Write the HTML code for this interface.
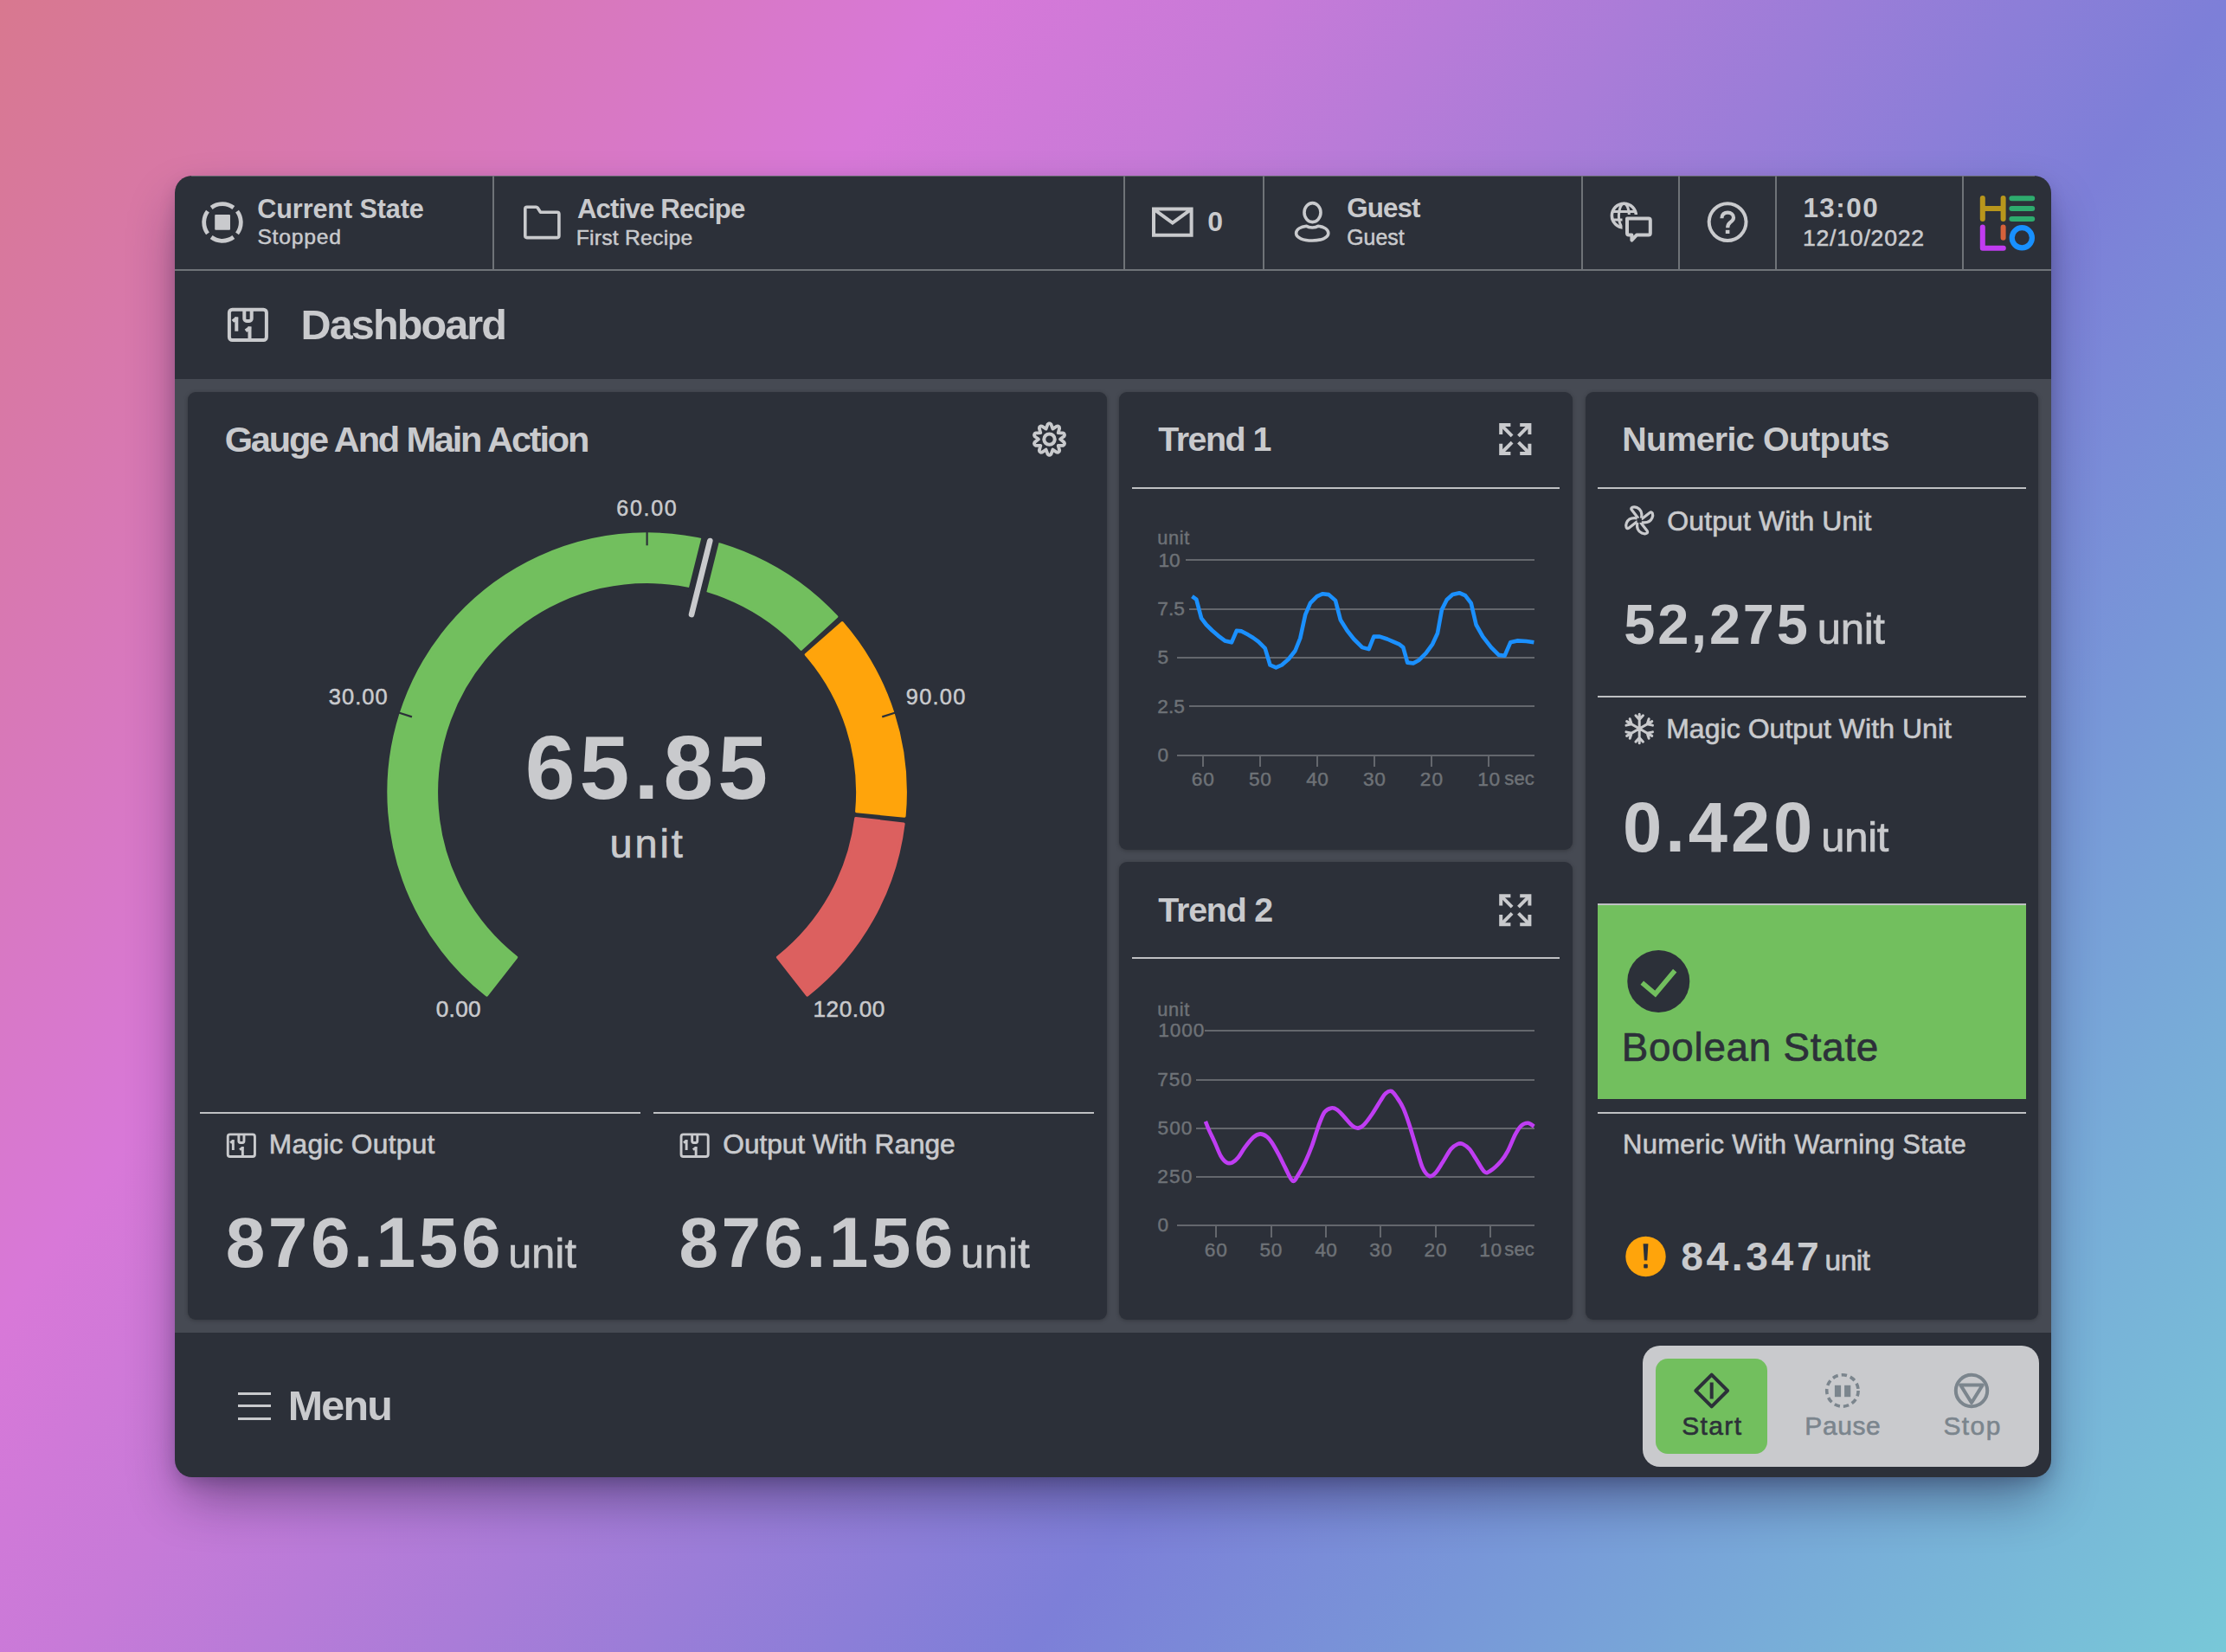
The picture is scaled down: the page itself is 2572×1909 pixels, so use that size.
<!DOCTYPE html>
<html><head><meta charset="utf-8"><style>
html,body{margin:0;padding:0;}
body{width:2572px;height:1909px;position:relative;overflow:hidden;font-family:"Liberation Sans",sans-serif;
background:linear-gradient(126deg,#d8788f 0%,#d878d8 28%,#c77ad8 37%,#7d7fd8 65%,#7896d8 76%,#78acd8 86%,#78c8d8 100%);}
.t{position:absolute;line-height:1;white-space:nowrap;}
.r{position:absolute;}
</style></head><body>
<div class="r" style="left:202px;top:203px;width:2168px;height:1504px;background:#2c3039;border-radius:20px;box-shadow:0 30px 60px -8px rgba(25,20,50,0.45), 0 8px 20px -4px rgba(25,20,50,0.25);"></div>
<div class="r" style="left:202px;top:311px;width:2168px;height:2px;background:#6f7378;"></div>
<div class="r" style="left:221px;top:203px;width:2130px;height:1px;background:rgba(115,119,124,0.8);"></div>
<div class="r" style="left:569px;top:203px;width:2px;height:108px;background:#6f7378;"></div>
<div class="r" style="left:1298px;top:203px;width:2px;height:108px;background:#6f7378;"></div>
<div class="r" style="left:1459px;top:203px;width:2px;height:108px;background:#6f7378;"></div>
<div class="r" style="left:1827px;top:203px;width:2px;height:108px;background:#6f7378;"></div>
<div class="r" style="left:1939px;top:203px;width:2px;height:108px;background:#6f7378;"></div>
<div class="r" style="left:2051px;top:203px;width:2px;height:108px;background:#6f7378;"></div>
<div class="r" style="left:2267px;top:203px;width:2px;height:108px;background:#6f7378;"></div>
<div class="r" style="left:202px;top:438px;width:2168px;height:1102px;background:#464a53;"></div>
<div class="r" style="left:217px;top:453px;width:1062px;height:1072px;background:#2c3039;border-radius:9px;box-shadow:0 1px 5px rgba(0,0,0,0.25);"></div>
<div class="r" style="left:1293px;top:453px;width:524px;height:529px;background:#2c3039;border-radius:9px;box-shadow:0 1px 5px rgba(0,0,0,0.25);"></div>
<div class="r" style="left:1293px;top:996px;width:524px;height:529px;background:#2c3039;border-radius:9px;box-shadow:0 1px 5px rgba(0,0,0,0.25);"></div>
<div class="r" style="left:1832px;top:453px;width:523px;height:1072px;background:#2c3039;border-radius:9px;box-shadow:0 1px 5px rgba(0,0,0,0.25);"></div>
<div class="t" style="left:297.24px;top:225.73px;font-size:30.67px;font-weight:700;letter-spacing:-0.130px;color:#c9cacd;">Current State</div>
<div class="t" style="left:297.38px;top:262.48px;font-size:24.71px;font-weight:400;letter-spacing:0.743px;color:#c9cacd;-webkit-text-stroke:0.49px #c9cacd;">Stopped</div>
<div class="t" style="left:666.92px;top:225.54px;font-size:31.25px;font-weight:700;letter-spacing:-0.867px;color:#c9cacd;">Active Recipe</div>
<div class="t" style="left:665.67px;top:263.08px;font-size:24.71px;font-weight:400;letter-spacing:0.247px;color:#c9cacd;-webkit-text-stroke:0.49px #c9cacd;">First Recipe</div>
<div class="t" style="left:1395.24px;top:239.93px;font-size:31.98px;font-weight:700;letter-spacing:0.000px;color:#c9cacd;">0</div>
<div class="t" style="left:1556.21px;top:225.02px;font-size:31.40px;font-weight:700;letter-spacing:-0.951px;color:#c9cacd;">Guest</div>
<div class="t" style="left:1556.25px;top:262.76px;font-size:24.85px;font-weight:400;letter-spacing:0.030px;color:#c9cacd;-webkit-text-stroke:0.50px #c9cacd;">Guest</div>
<div class="t" style="left:2083.42px;top:225.02px;font-size:31.40px;font-weight:700;letter-spacing:1.492px;color:#c9cacd;">13:00</div>
<div class="t" style="left:2082.97px;top:261.78px;font-size:26.60px;font-weight:400;letter-spacing:0.782px;color:#c9cacd;-webkit-text-stroke:0.53px #c9cacd;">12/10/2022</div>
<div class="t" style="left:347.55px;top:351.20px;font-size:48.55px;font-weight:700;letter-spacing:-1.890px;color:#c9cacd;">Dashboard</div>
<div class="t" style="left:259.69px;top:486.70px;font-size:41.57px;font-weight:700;letter-spacing:-2.197px;color:#c9cacd;">Gauge And Main Action</div>
<div class="t" style="left:1338.36px;top:487.95px;font-size:39.39px;font-weight:700;letter-spacing:-1.488px;color:#c9cacd;">Trend 1</div>
<div class="t" style="left:1338.36px;top:1032.05px;font-size:39.39px;font-weight:700;letter-spacing:-1.208px;color:#c9cacd;">Trend 2</div>
<div class="t" style="left:1874.37px;top:487.95px;font-size:39.39px;font-weight:700;letter-spacing:-0.734px;color:#c9cacd;">Numeric Outputs</div>
<div class="r" style="left:1308px;top:563px;width:494px;height:2px;background:#bfc0c3;"></div>
<div class="r" style="left:1308px;top:1106px;width:494px;height:2px;background:#bfc0c3;"></div>
<div class="r" style="left:1846px;top:563px;width:495px;height:2px;background:#bfc0c3;"></div>
<div class="r" style="left:1846px;top:804px;width:495px;height:2px;background:#bfc0c3;"></div>
<div class="r" style="left:1846px;top:1044px;width:495px;height:2px;background:#bfc0c3;"></div>
<div class="r" style="left:1846px;top:1285px;width:495px;height:2px;background:#bfc0c3;"></div>
<div class="r" style="left:231px;top:1285px;width:509px;height:2px;background:#bfc0c3;"></div>
<div class="r" style="left:755px;top:1285px;width:509px;height:2px;background:#bfc0c3;"></div>
<div class="t" style="left:310.80px;top:1307.27px;font-size:31.69px;font-weight:400;letter-spacing:0.281px;color:#c9cacd;-webkit-text-stroke:0.63px #c9cacd;">Magic Output</div>
<div class="t" style="left:835.30px;top:1307.27px;font-size:31.69px;font-weight:400;letter-spacing:-0.066px;color:#c9cacd;-webkit-text-stroke:0.63px #c9cacd;">Output With Range</div>
<div class="t" style="left:260.70px;top:1395.19px;font-size:81.98px;font-weight:700;letter-spacing:3.590px;color:#c9cacd;">876.156</div>
<div class="t" style="left:587.25px;top:1423.59px;font-size:48.44px;font-weight:400;letter-spacing:0.167px;color:#c9cacd;-webkit-text-stroke:0.70px #c9cacd;">unit</div>
<div class="t" style="left:784.40px;top:1395.19px;font-size:81.98px;font-weight:700;letter-spacing:3.440px;color:#c9cacd;">876.156</div>
<div class="t" style="left:1110.05px;top:1423.59px;font-size:48.44px;font-weight:400;letter-spacing:0.500px;color:#c9cacd;-webkit-text-stroke:0.70px #c9cacd;">unit</div>
<div class="t" style="left:1926.29px;top:585.73px;font-size:31.98px;font-weight:400;letter-spacing:0.111px;color:#c9cacd;-webkit-text-stroke:0.64px #c9cacd;">Output With Unit</div>
<div class="t" style="left:1876.30px;top:689.99px;font-size:64.97px;font-weight:700;letter-spacing:2.757px;color:#c9cacd;">52,275</div>
<div class="t" style="left:2099.81px;top:703.40px;font-size:49.13px;font-weight:400;letter-spacing:-0.388px;color:#c9cacd;-webkit-text-stroke:0.70px #c9cacd;">unit</div>
<div class="t" style="left:1925.18px;top:826.33px;font-size:31.98px;font-weight:400;letter-spacing:0.052px;color:#c9cacd;-webkit-text-stroke:0.64px #c9cacd;">Magic Output With Unit</div>
<div class="t" style="left:1875.08px;top:915.08px;font-size:81.40px;font-weight:700;letter-spacing:3.893px;color:#c9cacd;">0.420</div>
<div class="t" style="left:2104.22px;top:942.52px;font-size:48.99px;font-weight:400;letter-spacing:-0.283px;color:#c9cacd;-webkit-text-stroke:0.70px #c9cacd;">unit</div>
<div class="r" style="left:1846px;top:1046px;width:495px;height:224px;background:#72bf5e;"></div>
<div class="t" style="left:1873.84px;top:1187.63px;font-size:45.78px;font-weight:400;letter-spacing:0.745px;color:#2c3039;-webkit-text-stroke:0.70px #2c3039;">Boolean State</div>
<div class="t" style="left:1875.06px;top:1307.59px;font-size:30.96px;font-weight:400;letter-spacing:0.295px;color:#c9cacd;-webkit-text-stroke:0.62px #c9cacd;">Numeric With Warning State</div>
<div class="t" style="left:1942.23px;top:1429.16px;font-size:46.22px;font-weight:700;letter-spacing:3.605px;color:#c9cacd;">84.347</div>
<div class="t" style="left:2108.62px;top:1439.91px;font-size:33.54px;font-weight:400;letter-spacing:-0.615px;color:#c9cacd;-webkit-text-stroke:0.67px #c9cacd;">unit</div>
<div class="t" style="left:606.69px;top:836.41px;font-size:103.92px;font-weight:700;letter-spacing:5.108px;color:#c9cacd;">65.85</div>
<div class="t" style="left:704.55px;top:951.87px;font-size:46.92px;font-weight:400;letter-spacing:2.846px;color:#c9cacd;-webkit-text-stroke:0.70px #c9cacd;">unit</div>
<div class="t" style="left:332.76px;top:1600.32px;font-size:48.40px;font-weight:700;letter-spacing:-1.780px;color:#c9cacd;">Menu</div>
<div class="r" style="left:1898px;top:1555px;width:458px;height:140px;background:#c9cacd;border-radius:20px;"></div>
<div class="r" style="left:1913px;top:1570px;width:129px;height:110px;background:#72bf5e;border-radius:14px;"></div>
<div class="t" style="left:1943.14px;top:1632.65px;font-size:29.94px;font-weight:400;letter-spacing:1.412px;color:#2c3039;-webkit-text-stroke:0.60px #2c3039;">Start</div>
<div class="t" style="left:2085.34px;top:1632.65px;font-size:29.94px;font-weight:400;letter-spacing:0.597px;color:#7b858d;-webkit-text-stroke:0.60px #7b858d;">Pause</div>
<div class="t" style="left:2245.44px;top:1632.65px;font-size:29.94px;font-weight:400;letter-spacing:1.441px;color:#7b858d;-webkit-text-stroke:0.60px #7b858d;">Stop</div>
<div class="t" style="left:712.33px;top:574.83px;font-size:25.00px;font-weight:400;letter-spacing:1.721px;color:#c9cacd;-webkit-text-stroke:0.50px #c9cacd;">60.00</div>
<div class="t" style="left:379.83px;top:792.96px;font-size:25.44px;font-weight:400;letter-spacing:1.053px;color:#c9cacd;-webkit-text-stroke:0.51px #c9cacd;">30.00</div>
<div class="t" style="left:1046.81px;top:792.96px;font-size:25.44px;font-weight:400;letter-spacing:1.233px;color:#c9cacd;-webkit-text-stroke:0.51px #c9cacd;">90.00</div>
<div class="t" style="left:503.68px;top:1153.25px;font-size:26.16px;font-weight:400;letter-spacing:0.341px;color:#c9cacd;-webkit-text-stroke:0.52px #c9cacd;">0.00</div>
<div class="t" style="left:939.41px;top:1153.25px;font-size:26.16px;font-weight:400;letter-spacing:0.599px;color:#c9cacd;-webkit-text-stroke:0.52px #c9cacd;">120.00</div>
<div class="r" style="left:1370px;top:646px;width:403px;height:2px;background:#64676d;"></div>
<div class="r" style="left:1374px;top:703px;width:399px;height:2px;background:#64676d;"></div>
<div class="r" style="left:1360px;top:759px;width:413px;height:2px;background:#64676d;"></div>
<div class="r" style="left:1374px;top:815px;width:399px;height:2px;background:#64676d;"></div>
<div class="r" style="left:1360px;top:872px;width:413px;height:2px;background:#64676d;"></div>
<div class="r" style="left:1389px;top:872px;width:2px;height:14px;background:#64676d;"></div>
<div class="r" style="left:1455px;top:872px;width:2px;height:14px;background:#64676d;"></div>
<div class="r" style="left:1521px;top:872px;width:2px;height:14px;background:#64676d;"></div>
<div class="r" style="left:1587px;top:872px;width:2px;height:14px;background:#64676d;"></div>
<div class="r" style="left:1653px;top:872px;width:2px;height:14px;background:#64676d;"></div>
<div class="r" style="left:1719px;top:872px;width:2px;height:14px;background:#64676d;"></div>
<div class="t" style="left:1337.28px;top:611.44px;font-size:21.81px;font-weight:400;letter-spacing:0.606px;color:#6e7277;-webkit-text-stroke:0.44px #6e7277;">unit</div>
<div class="t" style="left:1338.47px;top:635.80px;font-size:22.67px;font-weight:400;letter-spacing:0.000px;color:#6e7277;-webkit-text-stroke:0.45px #6e7277;">10</div>
<div class="t" style="left:1337.34px;top:692.00px;font-size:22.67px;font-weight:400;letter-spacing:0.000px;color:#6e7277;-webkit-text-stroke:0.45px #6e7277;">7.5</div>
<div class="t" style="left:1337.59px;top:748.20px;font-size:22.67px;font-weight:400;letter-spacing:0.000px;color:#6e7277;-webkit-text-stroke:0.45px #6e7277;">5</div>
<div class="t" style="left:1337.36px;top:804.50px;font-size:22.67px;font-weight:400;letter-spacing:0.000px;color:#6e7277;-webkit-text-stroke:0.45px #6e7277;">2.5</div>
<div class="t" style="left:1337.61px;top:860.70px;font-size:22.67px;font-weight:400;letter-spacing:0.000px;color:#6e7277;-webkit-text-stroke:0.45px #6e7277;">0</div>
<div class="t" style="left:1376.75px;top:888.80px;font-size:22.67px;font-weight:400;letter-spacing:1.016px;color:#6e7277;-webkit-text-stroke:0.45px #6e7277;">60</div>
<div class="t" style="left:1442.99px;top:888.80px;font-size:22.67px;font-weight:400;letter-spacing:0.773px;color:#6e7277;-webkit-text-stroke:0.45px #6e7277;">50</div>
<div class="t" style="left:1509.28px;top:888.80px;font-size:22.67px;font-weight:400;letter-spacing:0.385px;color:#6e7277;-webkit-text-stroke:0.45px #6e7277;">40</div>
<div class="t" style="left:1575.04px;top:888.80px;font-size:22.67px;font-weight:400;letter-spacing:0.728px;color:#6e7277;-webkit-text-stroke:0.45px #6e7277;">30</div>
<div class="t" style="left:1640.86px;top:888.80px;font-size:22.67px;font-weight:400;letter-spacing:1.005px;color:#6e7277;-webkit-text-stroke:0.45px #6e7277;">20</div>
<div class="t" style="left:1707.37px;top:888.80px;font-size:22.67px;font-weight:400;letter-spacing:0.592px;color:#6e7277;-webkit-text-stroke:0.45px #6e7277;">10</div>
<div class="t" style="left:1738.29px;top:889.41px;font-size:21.96px;font-weight:400;letter-spacing:0.161px;color:#6e7277;-webkit-text-stroke:0.44px #6e7277;">sec</div>
<div class="r" style="left:1392px;top:1190px;width:381px;height:2px;background:#64676d;"></div>
<div class="r" style="left:1382px;top:1247px;width:391px;height:2px;background:#64676d;"></div>
<div class="r" style="left:1382px;top:1303px;width:391px;height:2px;background:#64676d;"></div>
<div class="r" style="left:1382px;top:1359px;width:391px;height:2px;background:#64676d;"></div>
<div class="r" style="left:1360px;top:1415px;width:413px;height:2px;background:#64676d;"></div>
<div class="r" style="left:1404px;top:1416px;width:2px;height:14px;background:#64676d;"></div>
<div class="r" style="left:1468px;top:1416px;width:2px;height:14px;background:#64676d;"></div>
<div class="r" style="left:1531px;top:1416px;width:2px;height:14px;background:#64676d;"></div>
<div class="r" style="left:1594px;top:1416px;width:2px;height:14px;background:#64676d;"></div>
<div class="r" style="left:1658px;top:1416px;width:2px;height:14px;background:#64676d;"></div>
<div class="r" style="left:1721px;top:1416px;width:2px;height:14px;background:#64676d;"></div>
<div class="t" style="left:1337.28px;top:1155.54px;font-size:21.81px;font-weight:400;letter-spacing:0.606px;color:#6e7277;-webkit-text-stroke:0.44px #6e7277;">unit</div>
<div class="t" style="left:1338.27px;top:1179.40px;font-size:22.67px;font-weight:400;letter-spacing:0.857px;color:#6e7277;-webkit-text-stroke:0.45px #6e7277;">1000</div>
<div class="t" style="left:1337.34px;top:1235.80px;font-size:22.67px;font-weight:400;letter-spacing:0.858px;color:#6e7277;-webkit-text-stroke:0.45px #6e7277;">750</div>
<div class="t" style="left:1337.59px;top:1292.00px;font-size:22.67px;font-weight:400;letter-spacing:0.981px;color:#6e7277;-webkit-text-stroke:0.45px #6e7277;">500</div>
<div class="t" style="left:1337.36px;top:1348.20px;font-size:22.67px;font-weight:400;letter-spacing:1.097px;color:#6e7277;-webkit-text-stroke:0.45px #6e7277;">250</div>
<div class="t" style="left:1337.61px;top:1404.40px;font-size:22.67px;font-weight:400;letter-spacing:0.000px;color:#6e7277;-webkit-text-stroke:0.45px #6e7277;">0</div>
<div class="t" style="left:1391.75px;top:1432.80px;font-size:22.67px;font-weight:400;letter-spacing:1.016px;color:#6e7277;-webkit-text-stroke:0.45px #6e7277;">60</div>
<div class="t" style="left:1455.49px;top:1432.80px;font-size:22.67px;font-weight:400;letter-spacing:0.773px;color:#6e7277;-webkit-text-stroke:0.45px #6e7277;">50</div>
<div class="t" style="left:1519.38px;top:1432.80px;font-size:22.67px;font-weight:400;letter-spacing:0.385px;color:#6e7277;-webkit-text-stroke:0.45px #6e7277;">40</div>
<div class="t" style="left:1582.34px;top:1432.80px;font-size:22.67px;font-weight:400;letter-spacing:0.728px;color:#6e7277;-webkit-text-stroke:0.45px #6e7277;">30</div>
<div class="t" style="left:1645.46px;top:1432.80px;font-size:22.67px;font-weight:400;letter-spacing:1.005px;color:#6e7277;-webkit-text-stroke:0.45px #6e7277;">20</div>
<div class="t" style="left:1709.27px;top:1432.80px;font-size:22.67px;font-weight:400;letter-spacing:0.592px;color:#6e7277;-webkit-text-stroke:0.45px #6e7277;">10</div>
<div class="t" style="left:1738.29px;top:1433.41px;font-size:21.96px;font-weight:400;letter-spacing:0.161px;color:#6e7277;-webkit-text-stroke:0.44px #6e7277;">sec</div>
<div class="r" style="left:275px;top:1609px;width:38px;height:3px;background:#c9cacd;"></div>
<div class="r" style="left:275px;top:1623px;width:38px;height:3px;background:#c9cacd;"></div>
<div class="r" style="left:275px;top:1638px;width:38px;height:3px;background:#c9cacd;"></div>
<svg class="r" style="left:0;top:0" width="2572" height="1909" viewBox="0 0 2572 1909"><path d="M562.44,1149.99 A298.7,298.7 0 1 1 966.74,712.62 L925.75,750.19 A243.1,243.1 0 1 0 596.68,1106.18 Z" fill="#72bf5e" stroke="#72bf5e" stroke-width="3.2" stroke-linejoin="round"/>
<path d="M973.06,719.66 A298.7,298.7 0 0 1 1045.03,943.16 L989.69,937.73 A243.1,243.1 0 0 0 931.28,756.36 Z" fill="#ffa40b" stroke="#ffa40b" stroke-width="3.2" stroke-linejoin="round"/>
<path d="M1044.07,952.04 A298.7,298.7 0 0 1 932.76,1149.99 L898.52,1106.18 A243.1,243.1 0 0 0 988.85,945.55 Z" fill="#dc605f" stroke="#dc605f" stroke-width="3.2" stroke-linejoin="round"/>
<path d="M460.72,823.49 L475.96,828.39" fill="none" stroke="#2c3039" stroke-width="2.2" />
<path d="M747.60,614.30 L747.60,630.30" fill="none" stroke="#2c3039" stroke-width="2.2" />
<path d="M1034.48,823.49 L1019.24,828.39" fill="none" stroke="#2c3039" stroke-width="2.2" />
<path d="M804.29,689.09 L822.45,616.52" fill="none" stroke="#2c3039" stroke-width="21" />
<path d="M799.02,710.14 L820.31,625.06" fill="none" stroke="#c9cacd" stroke-width="6.6" stroke-linecap="round"/>
<path d="M1377.4,689.1 L1382.3,692.6 L1388.1,714.3 L1393.9,722.0 L1400.5,728.5 L1407.5,734.6 L1415.2,740.4 L1423.0,742.3 L1428.8,728.8 L1434.6,729.4 L1442.3,733.6 L1447.9,737.0 L1453.9,741.4 L1461.7,749.1 L1467.5,768.5 L1474.3,771.4 L1481.0,768.5 L1488.8,761.7 L1496.5,752.0 L1502.3,737.5 L1508.2,710.4 L1514.0,696.8 L1521.7,689.1 L1528.5,686.2 L1535.3,687.1 L1543.0,693.9 L1548.8,716.2 L1556.6,728.8 L1564.3,738.5 L1574.0,748.1 L1581.6,750.1 L1587.4,735.6 L1594.2,735.6 L1602.9,738.5 L1609.5,741.3 L1616.5,744.3 L1621.3,748.1 L1626.2,765.6 L1632.9,766.5 L1639.7,762.7 L1647.5,754.9 L1655.2,744.3 L1661.0,731.7 L1665.9,704.6 L1671.7,693.0 L1678.4,687.1 L1686.2,685.2 L1693.0,688.1 L1699.7,696.8 L1705.6,722.0 L1713.3,735.6 L1723.0,748.1 L1731.7,756.9 L1738.5,757.8 L1745.2,742.3 L1753.0,740.4 L1763.6,741.0 L1772.4,742.3" fill="none" stroke="#1b90fe" stroke-width="4.6" stroke-linejoin="round" stroke-linecap="butt"/>
<path d="M1392.9,1295.9 C1393.6,1297.5 1395.0,1301.6 1396.8,1305.6 C1398.6,1309.6 1401.3,1315.1 1403.6,1320.1 C1405.9,1325.1 1408.2,1331.7 1410.4,1335.6 C1412.7,1339.5 1414.8,1342.0 1417.1,1343.3 C1419.3,1344.6 1421.6,1344.3 1423.9,1343.3 C1426.2,1342.3 1428.3,1340.4 1430.7,1337.5 C1433.1,1334.6 1435.5,1329.8 1438.4,1325.9 C1441.3,1322.0 1445.2,1316.9 1448.1,1314.3 C1451.0,1311.7 1453.3,1310.6 1455.9,1310.4 C1458.5,1310.2 1461.3,1311.7 1463.6,1313.3 C1465.8,1314.9 1467.1,1316.7 1469.4,1320.1 C1471.7,1323.5 1474.6,1328.8 1477.2,1333.6 C1479.8,1338.4 1482.2,1343.9 1484.9,1349.1 C1487.6,1354.3 1491.0,1363.3 1493.6,1364.6 C1496.2,1365.9 1498.0,1360.6 1500.4,1356.9 C1502.8,1353.2 1505.6,1347.9 1508.2,1342.4 C1510.8,1336.9 1513.3,1331.0 1515.9,1324.0 C1518.5,1317.0 1521.2,1307.2 1523.6,1300.7 C1526.0,1294.2 1528.0,1288.6 1530.4,1285.2 C1532.8,1281.8 1535.8,1280.9 1538.2,1280.4 C1540.6,1279.9 1542.5,1280.7 1544.9,1282.3 C1547.3,1283.9 1549.8,1287.0 1552.7,1290.1 C1555.6,1293.2 1559.7,1298.5 1562.4,1300.7 C1565.2,1303.0 1567.0,1303.8 1569.2,1303.6 C1571.4,1303.4 1573.1,1302.5 1575.8,1299.8 C1578.5,1297.1 1582.3,1291.9 1585.5,1287.2 C1588.7,1282.5 1592.6,1275.7 1595.2,1271.7 C1597.8,1267.8 1598.9,1265.3 1601.0,1263.5 C1603.1,1261.7 1605.5,1260.1 1607.8,1261.0 C1610.0,1261.9 1612.2,1265.6 1614.5,1268.8 C1616.8,1272.0 1619.0,1275.4 1621.3,1280.4 C1623.6,1285.4 1625.7,1291.5 1628.1,1298.8 C1630.5,1306.1 1633.2,1315.6 1635.8,1324.0 C1638.4,1332.4 1641.0,1343.3 1643.6,1349.1 C1646.2,1354.9 1648.9,1357.7 1651.3,1358.8 C1653.7,1359.9 1655.5,1358.5 1658.1,1355.9 C1660.7,1353.3 1663.7,1348.0 1666.8,1343.3 C1669.9,1338.6 1673.6,1331.3 1676.5,1327.8 C1679.4,1324.2 1682.0,1323.0 1684.3,1322.0 C1686.6,1321.0 1687.8,1321.0 1690.1,1322.0 C1692.3,1323.0 1695.2,1324.9 1697.8,1327.8 C1700.4,1330.7 1702.7,1335.1 1705.6,1339.5 C1708.5,1343.9 1712.5,1351.8 1715.2,1354.0 C1717.9,1356.2 1718.8,1355.1 1722.0,1353.0 C1725.2,1350.9 1731.2,1345.3 1734.6,1341.4 C1738.0,1337.5 1739.5,1335.0 1742.3,1329.8 C1745.0,1324.6 1748.5,1315.2 1751.1,1310.4 C1753.7,1305.6 1755.4,1302.8 1757.8,1300.7 C1760.2,1298.6 1763.2,1297.6 1765.6,1297.8 C1768.0,1298.0 1771.3,1301.0 1772.4,1301.7" fill="none" stroke="#bf3df2" stroke-width="4.6" stroke-linejoin="round" stroke-linecap="butt"/>
<path d="M244.18,239.99 A21.3,21.3 0 0 1 269.82,239.99" fill="none" stroke="#c9cacd" stroke-width="4.8" />
<path d="M274.01,244.18 A21.3,21.3 0 0 1 274.01,269.82" fill="none" stroke="#c9cacd" stroke-width="4.8" />
<path d="M269.82,274.01 A21.3,21.3 0 0 1 244.18,274.01" fill="none" stroke="#c9cacd" stroke-width="4.8" />
<path d="M239.99,269.82 A21.3,21.3 0 0 1 239.99,244.18" fill="none" stroke="#c9cacd" stroke-width="4.8" />
<rect x="248.2" y="248.0" width="17.8" height="17.8" rx="1" fill="#c9cacd"/>
<path d="M606.8,272.6 V241.2 a2,2 0 0 1 2,-2 H619.5 a2,2 0 0 1 1.6,0.8 L624.5,245.2 H643.9 a2,2 0 0 1 2,2 V272.6 a2,2 0 0 1 -2,2 H608.8 a2,2 0 0 1 -2,-2 Z" fill="none" stroke="#c9cacd" stroke-width="3.6" stroke-linejoin="round"/>
<path d="M1333,241.6 H1376.6 V271.8 H1333 Z M1333,241.6 L1354.8,257.6 L1376.6,241.6" fill="none" stroke="#c9cacd" stroke-width="4" stroke-linejoin="miter"/>
<ellipse cx="1516.5" cy="245.6" rx="9.5" ry="11" fill="none" stroke="#c9cacd" stroke-width="3.6"/>
<path d="M1509.5,261.2 C1503,262 1497.6,265 1497.6,269.6 C1497.6,275 1506,278 1516.2,278 C1526.4,278 1534.8,275 1534.8,269.6 C1534.8,265 1529.4,262 1523,261.2 C1520,263.5 1512.5,263.5 1509.5,261.2 Z" fill="none" stroke="#c9cacd" stroke-width="3.6" stroke-linejoin="round"/>
<circle cx="1876.4" cy="249.2" r="14" fill="none" stroke="#c9cacd" stroke-width="3.6"/>
<ellipse cx="1876.4" cy="249.2" rx="6" ry="14" fill="none" stroke="#c9cacd" stroke-width="3"/>
<path d="M1862.5,244.5 H1890.3 M1862.5,254 H1890.3" fill="none" stroke="#c9cacd" stroke-width="3" />
<path d="M1874.5,248 H1911 V276.5 H1889 L1883,282.5 L1874.5,276.5 Z" fill="#2c3039"/>
<path d="M1880,252.4 H1904.8 a2,2 0 0 1 2,2 V269.6 a2,2 0 0 1 -2,2 H1891 L1885.4,277.6 V271.6 H1882 a2,2 0 0 1 -2,-2 Z" fill="none" stroke="#c9cacd" stroke-width="4" stroke-linejoin="round"/>
<circle cx="1996.1" cy="256.6" r="21.4" fill="none" stroke="#c9cacd" stroke-width="4"/>
<path d="M1989.4,252.2 C1989.4,247.6 1992.4,245.6 1996.2,245.6 C2000.2,245.6 2003,248 2003,251.4 C2003,254.4 2001,255.6 1999,257.2 C1997,258.8 1996.2,259.8 1996.2,263.2" fill="none" stroke="#c9cacd" stroke-width="4.2" stroke-linecap="butt"/>
<rect x="1993.8" y="265.8" width="4.6" height="4.2" fill="#c9cacd"/>
<path d="M2290.8,229 V253 M2314.6,229 V253 M2290.8,241 H2314.6" fill="none" stroke="#b8961c" stroke-width="6" stroke-linecap="round"/>
<path d="M2324.4,229.2 H2348.2 M2324.4,241 H2348.2 M2324.4,253 H2348.2" fill="none" stroke="#2eab6e" stroke-width="6" stroke-linecap="round"/>
<path d="M2290.8,262.6 V286.8 H2314.8" fill="none" stroke="#c13cf1" stroke-width="6" stroke-linecap="round" stroke-linejoin="round"/>
<path d="M2314.6,262.6 V274.8" fill="none" stroke="#d6613a" stroke-width="6" stroke-linecap="round"/>
<circle cx="2336.3" cy="274.8" r="11.6" fill="none" stroke="#1890ff" stroke-width="6.2"/>
<rect x="264.90" y="357.70" width="43.00" height="35.40" rx="3.50" fill="none" stroke="#c9cacd" stroke-width="4.00"/>
<path d="M282.30,357.70 V368.30 a2.60,2.60 0 0 0 2.60,2.60 H288.10 a2.60,2.60 0 0 0 2.60,-2.60 V357.70" fill="none" stroke="#c9cacd" stroke-width="4.0" />
<path d="M268.90,371.30 L273.30,367.70 V382.80" fill="none" stroke="#c9cacd" stroke-width="4.0" stroke-linejoin="bevel"/>
<rect x="271.30" y="366.30" width="4.00" height="2.00" fill="#c9cacd"/>
<path d="M283.90,382.30 L288.50,378.70 V393.10" fill="none" stroke="#c9cacd" stroke-width="4.0" stroke-linejoin="bevel"/>
<rect x="286.50" y="377.30" width="4.00" height="2.00" fill="#c9cacd"/>
<rect x="263.25" y="1310.85" width="31.18" height="25.66" rx="2.54" fill="none" stroke="#c9cacd" stroke-width="2.90"/>
<path d="M275.87,1310.85 V1318.54 a1.89,1.89 0 0 0 1.89,1.89 H280.07 a1.89,1.89 0 0 0 1.89,-1.89 V1310.85" fill="none" stroke="#c9cacd" stroke-width="2.9" />
<path d="M266.15,1320.71 L269.34,1318.10 V1329.05" fill="none" stroke="#c9cacd" stroke-width="2.9" stroke-linejoin="bevel"/>
<rect x="267.89" y="1317.09" width="2.90" height="1.45" fill="#c9cacd"/>
<path d="M277.03,1328.69 L280.36,1326.08 V1336.52" fill="none" stroke="#c9cacd" stroke-width="2.9" stroke-linejoin="bevel"/>
<rect x="278.91" y="1325.06" width="2.90" height="1.45" fill="#c9cacd"/>
<rect x="787.05" y="1310.85" width="31.18" height="25.66" rx="2.54" fill="none" stroke="#c9cacd" stroke-width="2.90"/>
<path d="M799.66,1310.85 V1318.54 a1.89,1.89 0 0 0 1.89,1.89 H803.87 a1.89,1.89 0 0 0 1.89,-1.89 V1310.85" fill="none" stroke="#c9cacd" stroke-width="2.9" />
<path d="M789.95,1320.71 L793.14,1318.10 V1329.05" fill="none" stroke="#c9cacd" stroke-width="2.9" stroke-linejoin="bevel"/>
<rect x="791.69" y="1317.09" width="2.90" height="1.45" fill="#c9cacd"/>
<path d="M800.83,1328.69 L804.16,1326.08 V1336.52" fill="none" stroke="#c9cacd" stroke-width="2.9" stroke-linejoin="bevel"/>
<rect x="802.71" y="1325.06" width="2.90" height="1.45" fill="#c9cacd"/>
<path d="M1208.61,495.62 L1209.73,492.65 L1210.54,490.41 L1211.71,489.42 L1213.29,489.42 L1214.46,490.41 L1215.27,492.65 L1216.39,495.62 L1219.04,493.88 L1221.02,492.54 L1222.55,492.42 L1223.83,493.36 L1224.19,494.85 L1223.53,497.14 L1222.69,500.19 L1225.86,500.35 L1228.24,500.43 L1229.55,501.23 L1230.04,502.74 L1229.45,504.15 L1227.57,505.62 L1225.10,507.60 L1227.57,509.58 L1229.45,511.05 L1230.04,512.46 L1229.55,513.97 L1228.24,514.77 L1225.86,514.85 L1222.69,515.01 L1223.53,518.06 L1224.19,520.35 L1223.83,521.84 L1222.55,522.78 L1221.02,522.66 L1219.04,521.32 L1216.39,519.58 L1215.27,522.55 L1214.46,524.79 L1213.29,525.78 L1211.71,525.78 L1210.54,524.79 L1209.73,522.55 L1208.61,519.58 L1205.96,521.32 L1203.98,522.66 L1202.45,522.78 L1201.17,521.84 L1200.81,520.35 L1201.47,518.06 L1202.31,515.01 L1199.14,514.85 L1196.76,514.77 L1195.45,513.97 L1194.96,512.46 L1195.55,511.05 L1197.43,509.58 L1199.90,507.60 L1197.43,505.62 L1195.55,504.15 L1194.96,502.74 L1195.45,501.23 L1196.76,500.43 L1199.14,500.35 L1202.31,500.19 L1201.47,497.14 L1200.81,494.85 L1201.17,493.36 L1202.45,492.42 L1203.98,492.54 L1205.96,493.88 Z" fill="none" stroke="#c9cacd" stroke-width="3.8" stroke-linejoin="round"/>
<circle cx="1212.5" cy="507.6" r="6.2" fill="none" stroke="#c9cacd" stroke-width="4"/>
<path d="M1734.2,502.09999999999997 V490.9 H1745.4 M1756.2,490.9 H1767.4 V502.09999999999997 M1734.2,512.8 V524.0 H1745.4 M1756.2,524.0 H1767.4 V512.8" fill="none" stroke="#c9cacd" stroke-width="4.0" stroke-linejoin="miter" stroke-linecap="butt"/>
<path d="M1735.2,491.9 L1747.1000000000001,503.79999999999995 M1766.4,491.9 L1754.5,503.79999999999995 M1735.2,523.0 L1747.1000000000001,511.1 M1766.4,523.0 L1754.5,511.1" fill="none" stroke="#c9cacd" stroke-width="4.0" />
<path d="M1734.2,1046.4 V1035.2 H1745.4 M1756.2,1035.2 H1767.4 V1046.4 M1734.2,1057.1 V1068.3 H1745.4 M1756.2,1068.3 H1767.4 V1057.1" fill="none" stroke="#c9cacd" stroke-width="4.0" stroke-linejoin="miter" stroke-linecap="butt"/>
<path d="M1735.2,1036.2 L1747.1000000000001,1048.1000000000001 M1766.4,1036.2 L1754.5,1048.1000000000001 M1735.2,1067.3 L1747.1000000000001,1055.3999999999999 M1766.4,1067.3 L1754.5,1055.3999999999999" fill="none" stroke="#c9cacd" stroke-width="4.0" />
<path d="M1892.44,598.31 L1885.40,589.33 C1883.11,586.34 1887.51,584.93 1891.38,586.52 C1896.31,588.63 1897.37,593.38 1896.66,598.31" fill="none" stroke="#c9cacd" stroke-width="3.2" stroke-linejoin="round" stroke-linecap="round"/>
<path d="M1897.19,599.54 L1906.17,592.50 C1909.16,590.21 1910.57,594.61 1908.98,598.48 C1906.87,603.41 1902.12,604.47 1897.19,603.76" fill="none" stroke="#c9cacd" stroke-width="3.2" stroke-linejoin="round" stroke-linecap="round"/>
<path d="M1895.96,604.29 L1903.00,613.27 C1905.29,616.26 1900.89,617.67 1897.02,616.08 C1892.09,613.97 1891.03,609.22 1891.74,604.29" fill="none" stroke="#c9cacd" stroke-width="3.2" stroke-linejoin="round" stroke-linecap="round"/>
<path d="M1891.21,603.06 L1882.23,610.10 C1879.24,612.39 1877.83,607.99 1879.42,604.12 C1881.53,599.19 1886.28,598.13 1891.21,598.84" fill="none" stroke="#c9cacd" stroke-width="3.2" stroke-linejoin="round" stroke-linecap="round"/>
<rect x="1891.6000000000001" y="598.6999999999999" width="5.2" height="5.2" fill="#2c3039"/>
<path d="M1894.20,842.00 L1894.20,825.20 M1894.20,831.60 L1889.92,826.84 M1894.20,831.60 L1898.48,826.84 M1894.20,842.00 L1908.75,833.60 M1903.21,836.80 L1905.18,830.71 M1903.21,836.80 L1909.47,838.13 M1894.20,842.00 L1908.75,850.40 M1903.21,847.20 L1909.47,845.87 M1903.21,847.20 L1905.18,853.29 M1894.20,842.00 L1894.20,858.80 M1894.20,852.40 L1898.48,857.16 M1894.20,852.40 L1889.92,857.16 M1894.20,842.00 L1879.65,850.40 M1885.19,847.20 L1883.22,853.29 M1885.19,847.20 L1878.93,845.87 M1894.20,842.00 L1879.65,833.60 M1885.19,836.80 L1878.93,838.13 M1885.19,836.80 L1883.22,830.71 " fill="none" stroke="#c9cacd" stroke-width="3.0" stroke-linecap="round"/>
<circle cx="1916.3" cy="1133.9" r="36" fill="#2c3039"/>
<path d="M1897.3,1135.6 L1912.6,1148.6 L1935.2,1121.6" fill="none" stroke="#72bf5e" stroke-width="5.6" stroke-linejoin="miter"/>
<circle cx="1901.5" cy="1452" r="23.2" fill="#ffa40b"/>
<path d="M1898.6,1437.3 H1904.4 L1903.2,1456.4 H1899.8 Z" fill="#2c3039"/>
<rect x="1899.2" y="1460.8" width="4.6" height="4.6" rx="1" fill="#2c3039"/>
<path d="M1977.7,1588.6 L1996.1,1607 L1977.7,1625.4 L1959.3,1607 Z M1977.7,1597.5 V1616.5" fill="none" stroke="#2c3039" stroke-width="4" stroke-linejoin="round"/>
<circle cx="2128.9" cy="1607" r="18.2" fill="none" stroke="#7b858d" stroke-width="3.6" stroke-dasharray="6.4 4.1"/>
<rect x="2119.9" y="1600.8" width="7.2" height="13.4" fill="#7b858d"/><rect x="2131.1" y="1600.8" width="7.2" height="13.4" fill="#7b858d"/>
<circle cx="2278" cy="1607" r="18.2" fill="none" stroke="#7b858d" stroke-width="4"/>
<path d="M2265.2,1600.4 H2290.8 L2278,1621 Z" fill="none" stroke="#7b858d" stroke-width="4" stroke-linejoin="round"/></svg>

</body></html>
